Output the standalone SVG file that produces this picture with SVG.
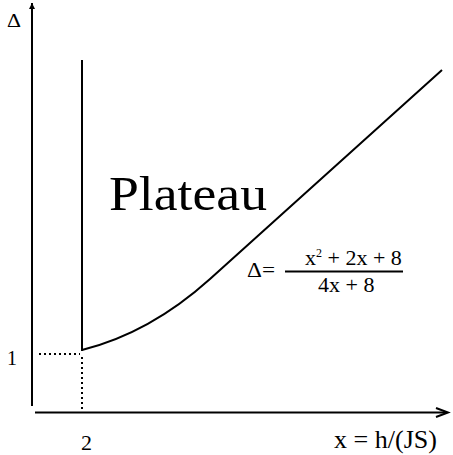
<svg xmlns="http://www.w3.org/2000/svg" width="453" height="455" viewBox="0 0 453 455">
<defs>
<style>
.ln { stroke: #000; stroke-width: 2; fill: none; }
.dot { stroke: #000; stroke-width: 2; fill: none; stroke-dasharray: 2 3; }
</style>
<marker id="arrFill" viewBox="0 0 10 10" refX="10" refY="5" markerWidth="6" markerHeight="8" markerUnits="userSpaceOnUse" orient="auto">
<path d="M0,0 L10,5 L0,10 Z" fill="#000"/>
</marker>
</defs>
<rect width="453" height="455" fill="#fff"/>
<g id="connectors">
<line class="ln" x1="32" y1="406" x2="32" y2="3" marker-end="url(#arrFill)"/>
<line class="ln" x1="35" y1="412.5" x2="447" y2="412.5"/>
<polyline class="ln" points="436,408 448,412.5 436,417" stroke-width="1.5"/>
<line class="ln" x1="82" y1="60" x2="82" y2="351"/>
<path class="ln" d="M82,350 Q150,333 210,279 L442,70"/>
<line class="dot" x1="39" y1="354" x2="80" y2="354"/>
<line class="dot" x1="82" y1="357" x2="82" y2="412"/>
<line class="ln" x1="285" y1="271.5" x2="403" y2="271.5" stroke-width="1.5"/>
</g>
<g id="labels" font-family="'Liberation Serif', 'Times New Roman', Times, serif" fill="#000">
<text x="7" y="27" font-size="19" textLength="14" lengthAdjust="spacingAndGlyphs">Δ</text>
<text x="109" y="210" font-size="48" textLength="158" lengthAdjust="spacingAndGlyphs">Plateau</text>
<text x="247" y="277" font-size="20" textLength="28" lengthAdjust="spacingAndGlyphs">Δ=</text>
<text x="305" y="265" font-size="22">x<tspan dy="-8" font-size="12">2</tspan><tspan dy="8"> + 2x + 8</tspan></text>
<text x="318" y="292" font-size="22">4x + 8</text>
<text x="7" y="365" font-size="20">1</text>
<text x="81" y="450" font-size="22">2</text>
<text x="334" y="448" font-size="26" textLength="103" lengthAdjust="spacingAndGlyphs">x = h/(JS)</text>
</g>
</svg>
